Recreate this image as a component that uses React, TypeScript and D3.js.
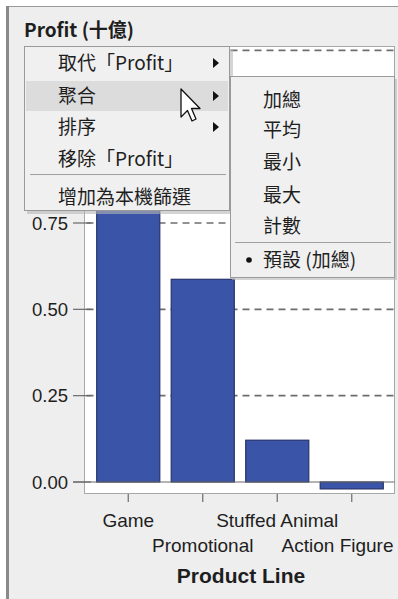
import React from "react";
import * as d3 from "d3";

const categories = ["Game", "Promotional", "Stuffed Animal", "Action Figure"];
const profitValues = [1.18, 0.587, 0.121, -0.02];
const yTicks = [0, 0.25, 0.5, 0.75, 1.0, 1.25];
const yTickLabels = ["0.00", "0.25", "0.50", "0.75"];
const menuItems = ["取代「Profit」", "聚合", "排序", "移除「Profit」"];
const menuArrows = [true, true, true, false];
const menuExtra = "增加為本機篩選";
const subItems = ["加總", "平均", "最小", "最大", "計數"];
const subDefault = "預設 (加總)";
const title = "Profit (十億)";
const xTitle = "Product Line";

const W = 398;
const H = 599;

export default function App() {
  const plot = { left: 84.5, right: 394.5, top: 46.5, bottom: 493.5 };
  const y = d3.scaleLinear().domain([0, 0.75]).range([482, 223]);
  const x = d3
    .scaleBand<string>()
    .domain(categories)
    .range([91, 389])
    .paddingInner(0.14)
    .paddingOuter(0.07);

  const latin = "'Liberation Sans', Arial, sans-serif";
  const cjk = "'Noto Sans CJK TC', 'Liberation Sans', sans-serif";
  const textCol = "#1e1e1e";

  const menuRowsY = [63, 96, 127, 159];
  const subRowsY = [100, 130, 162, 195, 226];

  return (
    <svg
      width={W}
      height={H}
      style={{ position: "absolute", left: 0, top: 0 }}
      xmlns="http://www.w3.org/2000/svg"
    >
      <rect x={0} y={0} width={W} height={H} fill="#ffffff" />
      <rect x={7} y={6} width={W - 7} height={H - 6} fill="#eeeeee" />
      <line x1={7} x2={W} y1={6.5} y2={6.5} stroke="#9a9a9a" strokeWidth={1} />
      <rect x={6} y={6} width={3} height={H - 6} fill="#8a8a8a" />

      {/* title */}
      <text x={24} y={37} fontFamily={cjk} fontWeight="bold" fontSize={19} fill={textCol}>
        {title}
      </text>

      {/* plot area */}
      <rect
        x={plot.left}
        y={plot.top}
        width={plot.right - plot.left}
        height={plot.bottom - plot.top}
        fill="#ffffff"
        stroke="#a8a8a8"
        strokeWidth={1}
      />

      {/* gridlines */}
      {yTicks
        .filter((t) => t > 0)
        .map((t) => (
          <line
            key={"g" + t}
            x1={plot.left + 2}
            x2={plot.right - 1}
            y1={y(t)}
            y2={y(t)}
            stroke="#6e6e6e"
            strokeWidth={1.6}
            strokeDasharray="7,5"
          />
        ))}

      {/* bars */}
      {categories.map((c, i) => {
        const v = profitValues[i];
        const y0 = y(0);
        const y1 = y(v);
        return (
          <rect
            key={c}
            x={(x(c) as number) + 0.5}
            y={Math.min(y0, y1)}
            width={x.bandwidth() - 1}
            height={Math.abs(y1 - y0)}
            fill="#3a55a7"
            stroke="#27336a"
            strokeWidth={1.2}
          />
        );
      })}

      {/* zero line */}
      <line x1={73} x2={plot.right} y1={y(0)} y2={y(0)} stroke="#6a6a6a" strokeWidth={1.2} />

      {/* y ticks */}
      {yTicks.map((t, i) => (
        <g key={"t" + t}>
          <line x1={73} x2={91} y1={y(t)} y2={y(t)} stroke="#6a6a6a" strokeWidth={1.2} />
          {yTickLabels[i] && (
            <text
              x={68}
              y={y(t) + 6.5}
              textAnchor="end"
              fontFamily={latin}
              fontSize={18.5}
              fill={textCol}
            >
              {yTickLabels[i]}
            </text>
          )}
        </g>
      ))}

      {/* x ticks and labels */}
      {categories.map((c, i) => {
        const cx = (x(c) as number) + x.bandwidth() / 2;
        const last = i === categories.length - 1;
        return (
          <g key={"x" + c}>
            <line x1={cx} x2={cx} y1={494} y2={502} stroke="#6a6a6a" strokeWidth={1.2} />
            <text
              x={last ? plot.right - 1 : cx}
              y={i % 2 === 0 ? 527 : 552}
              textAnchor={last ? "end" : "middle"}
              fontFamily={latin}
              fontSize={19}
              fill={textCol}
            >
              {c}
            </text>
          </g>
        );
      })}
      <text x={241} y={583} textAnchor="middle" fontFamily={latin} fontWeight="bold" fontSize={21} fill={textCol}>
        {xTitle}
      </text>

      {/* context menu */}
      <rect x={27} y={49} width={206} height={165} fill="#b8b8b8" opacity={0.6} />
      <rect x={24.5} y={46.5} width={205} height={164} fill="#f0f0f0" stroke="#9a9a9a" strokeWidth={1} />
      <rect x={26} y={81} width={202} height={30} fill="#dcdcdc" />
      {menuItems.map((m, i) => (
        <g key={"m" + i}>
          <text x={58} y={menuRowsY[i] + 7} fontFamily={cjk} fontSize={19} fill={textCol}>
            {m}
          </text>
          {menuArrows[i] && (
            <path
              d={`M${213},${menuRowsY[i] - 5} L${219},${menuRowsY[i]} L${213},${menuRowsY[i] + 5} Z`}
              fill="#111"
            />
          )}
        </g>
      ))}
      <line x1={30} x2={226} y1={174.5} y2={174.5} stroke="#a0a0a0" strokeWidth={1} />
      <text x={58} y={197 + 7} fontFamily={cjk} fontSize={19} fill={textCol}>
        {menuExtra}
      </text>

      {/* submenu */}
      <rect x={232} y={79} width={165} height={201} fill="#b8b8b8" opacity={0.6} />
      <rect x={230.5} y={76.5} width={164} height={201} fill="#f0f0f0" stroke="#9a9a9a" strokeWidth={1} />
      {subItems.map((s, i) => (
        <text key={"s" + i} x={263} y={subRowsY[i] + 7} fontFamily={cjk} fontSize={19} fill={textCol}>
          {s}
        </text>
      ))}
      <line x1={235} x2={391} y1={242.5} y2={242.5} stroke="#a0a0a0" strokeWidth={1} />
      <circle cx={249} cy={260} r={2.8} fill="#111" />
      <text x={263} y={260 + 7} fontFamily={cjk} fontSize={19} fill={textCol}>
        {subDefault}
      </text>

      {/* mouse cursor */}
      <path
        d="M181,89 L181,117 L187.5,110.5 L192,121 L196,119 L191.5,108.5 L200,108.5 Z"
        fill="#ffffff"
        stroke="#111"
        strokeWidth={1.3}
        strokeLinejoin="round"
      />
    </svg>
  );
}
